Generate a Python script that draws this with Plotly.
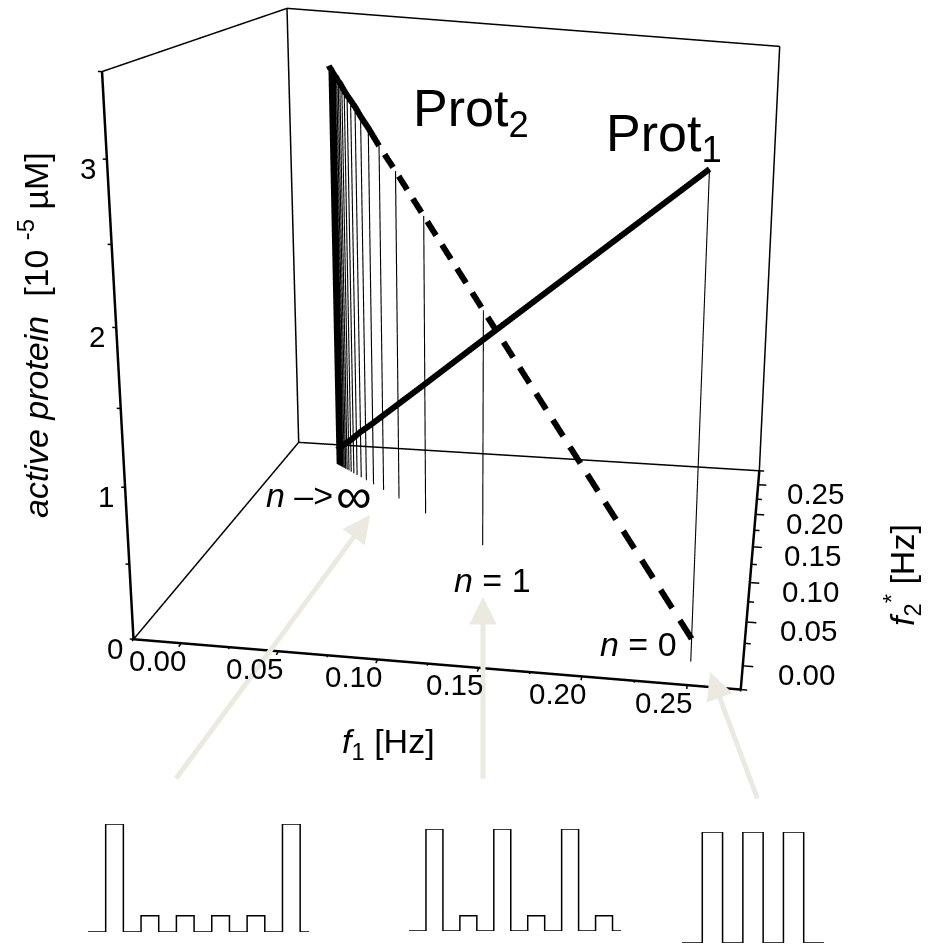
import numpy as np
import plotly.graph_objects as go

W, H = 929, 944
# readings per pulse-train n = 0, 1, 2, ...
f1_vals = [0.25, 0.125, 0.0833, 0.0625, 0.05, 0.0417, 0.0357, 0.0313, 0.0278, 0.025, 0.0227, 0.0208, 0.0192, 0.0179, 0.0167, 0.0156, 0.0147, 0.0139, 0.0132, 0.0125, 0.0119, 0.0114, 0.0109, 0.0104]
f2_vals = [0.0, 0.125, 0.1667, 0.1875, 0.2, 0.2083, 0.2143, 0.2188, 0.2222, 0.225, 0.2273, 0.2292, 0.2308, 0.2321, 0.2333, 0.2344, 0.2353, 0.2361, 0.2368, 0.2375, 0.2381, 0.2386, 0.2391, 0.2396]
prot1_vals = [3.0, 1.495, 0.99, 0.74, 0.59, 0.49, 0.42, 0.37, 0.325, 0.29, 0.26, 0.24, 0.22, 0.205, 0.19, 0.18, 0.167, 0.157, 0.15, 0.14, 0.13, 0.127, 0.12, 0.115]
prot2_vals = [0.15, 1.7, 2.22, 2.48, 2.63, 2.74, 2.81, 2.87, 2.91, 2.94, 2.97, 2.996, 3.02, 3.03, 3.05, 3.06, 3.07, 3.08, 3.09, 3.1, 3.11, 3.11, 3.12, 3.13]
f1_box = [-0.025, 0.275]
f2_box = [-0.025, 0.275]
z_box = [0.0, 3.5]
z_top_right = 3.29
f1_range = [-0.05, 0.30]
f2_range = [-0.05, 0.30]
z_range = [-0.2, 3.7]
f_major = [0.0, 0.05, 0.1, 0.15, 0.2, 0.25]
f_minor = [-0.025, 0.025, 0.075, 0.125, 0.175, 0.225, 0.275]
f_labels = ["0.00", "0.05", "0.10", "0.15", "0.20", "0.25"]
z_ticks = [0, 1, 2, 3]
z_minor = [0.5, 1.5, 2.5, 3.5]
# pulse trains
t1 = [-1, 0, 1, 2, 3, 4, 5, 6, 7, 8, 9, 10, 11, 11.5]
v1 = [0, 1, 0, 0.15, 0, 0.15, 0, 0.15, 0, 0.15, 0, 1, 0, 0]
t2 = [-1, 0, 1, 2, 3, 4, 5, 6, 7, 8, 9, 10, 11, 11.5]
v2 = [0, 1, 0, 0.15, 0, 1, 0, 0.15, 0, 1, 0, 0.15, 0, 0]
t3 = [-1, 0, 1, 2, 3, 4, 5, 6]
v3 = [0, 1, 0, 1, 0, 1, 0, 0]

# camera
EYE = (0.4006, -2.2943, 0.6077)
CENTER = (-0.0220, -0.0194, -0.0605)
ASPECT = (0.8588, 0.8760, 0.7718)
SCENE_BOTTOM = 700
FOVY = 0.38271

lo = np.array([f1_range[0], f2_range[0], z_range[0]])
hi = np.array([f1_range[1], f2_range[1], z_range[1]])

fig = go.Figure()
def seg(xs, ys, zs, width, color="black"):
    fig.add_trace(go.Scatter3d(x=xs, y=ys, z=zs, mode="lines", line=dict(color=color, width=width), showlegend=False, hoverinfo="skip"))
x0, x1 = f1_box; y0, y1 = f2_box; z0, z1 = z_box
seg([x0, x1], [y0, y0], [z0, z0], 5)
seg([x1, x1], [y0, y1], [z0, z0], 5)
seg([x0, x0], [y0, y0], [z0, z1], 5)
seg([x0, x1], [y1, y1], [z0, z0], 3)
seg([x0, x0], [y0, y1], [z0, z0], 3)
seg([x0, x0], [y1, y1], [z0, z1], 3)
seg([x1, x1], [y1, y1], [z0, z_top_right], 3)
seg([x0, x0], [y0, y1], [z1, z1], 3)
seg([x0, x1], [y1, y1], [z1, z_top_right], 3)
for t in f_major:
    seg([t, t], [y0, y0 - 0.004], [z0, z0], 3)
    seg([x1, x1 + 0.005], [t, t], [z0, z0], 3)
for t in f_minor:
    seg([t, t], [y0, y0 - 0.002], [z0, z0], 3)
    seg([x1, x1 + 0.003], [t, t], [z0, z0], 3)
for t in z_ticks + z_minor:
    seg([x0, x0 - 0.002], [y0, y0], [t, t], 3)
for i, (a, b) in enumerate(zip(f1_vals, f2_vals)):
    seg([a, a], [b, b], [0, max(prot1_vals[i], prot2_vals[i])], 2.2)
seg(f1_vals, f2_vals, prot1_vals, 12)
seg(f1_vals[4:], f2_vals[4:], prot2_vals[4:], 12)

def dashed(xs, ys, zs, periods=19, on=0.6):
    A = np.c_[xs, ys, zs]
    L = np.r_[0, np.cumsum(np.linalg.norm(np.diff(A / (hi - lo), axis=0), axis=1))]
    L = L / L[-1]
    X = []; Y = []; Z = []
    for k in range(periods):
        for t in (k / periods, (k + on) / periods):
            X.append(np.interp(t, L, A[:, 0])); Y.append(np.interp(t, L, A[:, 1])); Z.append(np.interp(t, L, A[:, 2]))
        X.append(None); Y.append(None); Z.append(None)
    return X, Y, Z
dx, dy, dz = dashed(f1_vals[:5], f2_vals[:5], prot2_vals[:5])
seg(dx, dy, dz, 12)

sc = []
FAM = "Liberation Sans, Arial"
TF = dict(family=FAM, size=29.5, color="black")
for t, l in zip(f_major, f_labels):
    sc.append(dict(x=t, y=y0, z=z0, text=l, showarrow=False, xanchor="center", yanchor="middle", xshift=-24, yshift=-17, font=TF))
    sc.append(dict(x=x1, y=t, z=z0, text=l, showarrow=False, xanchor="left", yanchor="middle", xshift=33 - 24 * t, yshift=-9, font=TF))
for t in z_ticks:
    sc.append(dict(x=x0, y=y0, z=t, text=str(t), showarrow=False, xanchor="right", yanchor="middle", xshift=-9, yshift=-9, font=TF))
ax_off = dict(visible=False)
fig.update_layout(
    width=W, height=H, margin=dict(l=0, r=0, t=0, b=0), paper_bgcolor="white", plot_bgcolor="white", showlegend=False,
    scene=dict(domain=dict(x=[0, 1], y=[1 - SCENE_BOTTOM / H, 1]),
        xaxis=dict(range=f1_range, **ax_off), yaxis=dict(range=f2_range, **ax_off), zaxis=dict(range=z_range, **ax_off),
        aspectmode="manual", aspectratio=dict(x=ASPECT[0], y=ASPECT[1], z=ASPECT[2]),
        camera=dict(eye=dict(x=EYE[0], y=EYE[1], z=EYE[2]), center=dict(x=CENTER[0], y=CENTER[1], z=CENTER[2]), up=dict(x=0, y=0, z=1), projection=dict(type="perspective")),
        annotations=sc))

def ann(x, y, text, size=34, angle=0):
    fig.add_annotation(x=x / W, y=1 - y / H, xref="paper", yref="paper", xanchor="center", yanchor="middle", text=text, showarrow=False, textangle=angle, font=dict(family=FAM, size=size, color="black"))
ann(471, 112, "Prot<sub>2</sub>", 52)
ann(664, 137, "Prot<sub>1</sub>", 52)
ann(33, 335, "<i>active protein</i>  [10 <sup>-5</sup> µM]", 34, -90)
ann(902, 575, "<i>f</i><sub>2</sub><sup>*</sup> [Hz]", 34, -90)
ann(388, 743, "<i>f</i><sub>1</sub> [Hz]", 34)
ann(493, 580, "<i>n</i> = 1", 34)
ann(638, 644, "<i>n</i> = 0", 34)
ann(299, 495, "<i>n</i> –>", 34)
ann(354, 496, "∞", 50)
arrow = "#ECEAE0"
for hx, hy, tx, ty in [(370, 515, 175, 780), (483, 597, 483, 780), (710, 672, 758, 800)]:
    fig.add_annotation(x=hx / W, y=1 - hy / H, xref="paper", yref="paper", ax=tx - hx, ay=ty - hy, text="", showarrow=True, arrowhead=2, arrowsize=1.1, arrowwidth=5, arrowcolor=arrow)

insets = [(t1, v1, 88, 309, 932, 824), (t2, v2, 409, 621, 931, 829), (t3, v3, 682, 824, 943, 832)]
for i, (t, v, xa, xb, yb, yt) in enumerate(insets):
    n = i + 2
    fig.add_trace(go.Scatter(x=t, y=v, mode="lines", line=dict(color="black", width=1.5, shape="hv"), xaxis=f"x{n}", yaxis=f"y{n}", showlegend=False, hoverinfo="skip", cliponaxis=False))
    fig.update_layout(**{f"xaxis{n}": dict(domain=[xa / W, xb / W], range=[t[0], t[-1]], visible=False, anchor=f"y{n}"),
                         f"yaxis{n}": dict(domain=[1 - yb / H, 1 - yt / H], range=[0, 1], visible=False, anchor=f"x{n}")})
post = """document.body.style.margin='0';
var gd=document.querySelector('.plotly-graph-div');
var gp=gd._fullLayout.scene._scene.glplot; gp.fovy=%f; gp.redraw();""" % FOVY
fig.write_html("out.html", post_script=post, config={"displayModeBar": False})
